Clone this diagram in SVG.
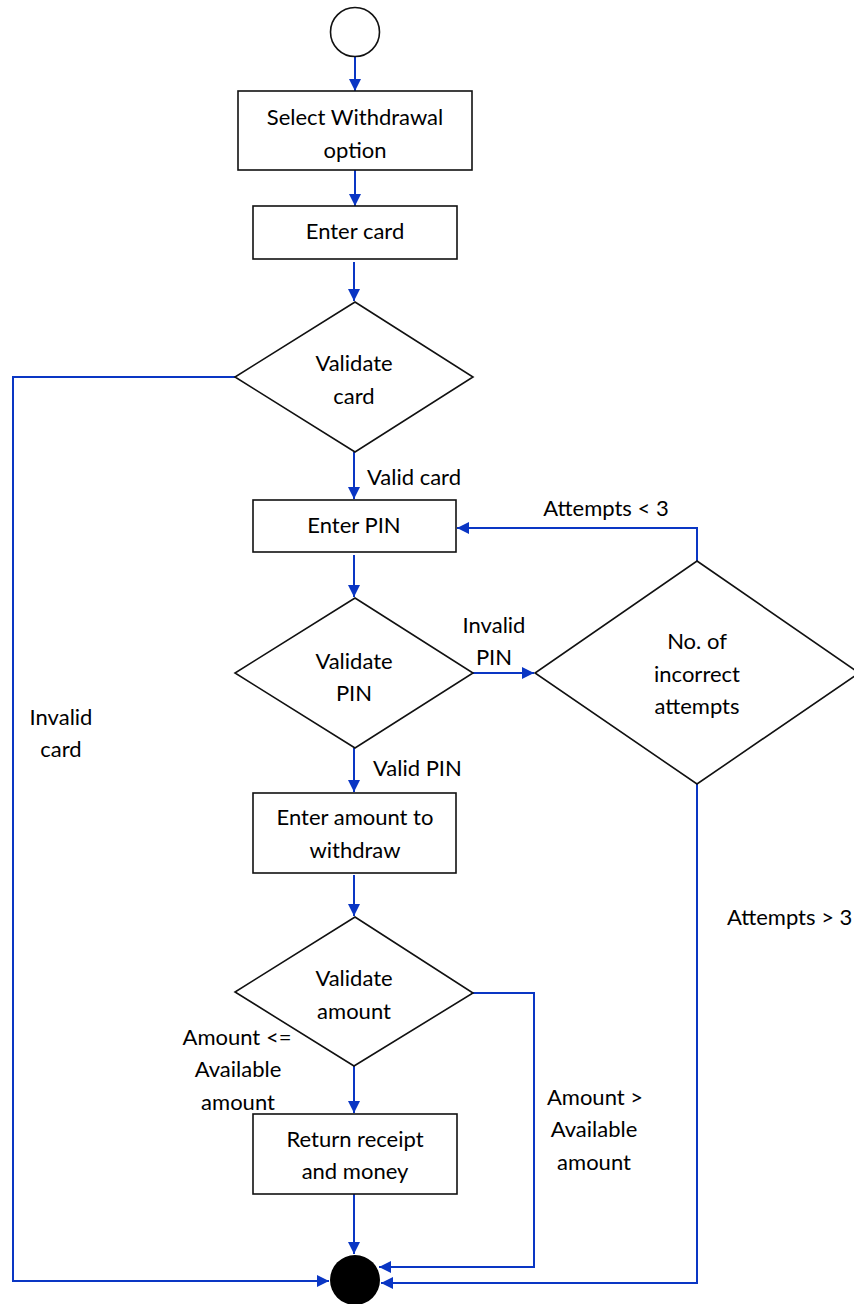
<svg xmlns="http://www.w3.org/2000/svg" width="854" height="1304" viewBox="0 0 854 1304">
  <style>
    .box { fill: #ffffff; stroke: #111111; stroke-width: 1.6; }
    .flow { fill: none; stroke: #0a36c4; stroke-width: 2; }
    text { font-family: Lato, "Open Sans", "Liberation Sans", sans-serif; font-size: 22px; fill: #000000; }
    .c { text-anchor: middle; }
  </style>
  <defs>
    <marker id="arrow" viewBox="0 0 12 12" refX="12" refY="6" markerWidth="12" markerHeight="12" markerUnits="userSpaceOnUse" orient="auto">
      <path d="M0,0 L12,6 L0,12 Z" fill="#0a36c4"/>
    </marker>
  </defs>
  <rect width="854" height="1304" fill="#ffffff"/>

  <g id="connectors">
    <path class="flow" d="M355,57 L355,91" marker-end="url(#arrow)"/>
    <path class="flow" d="M355,170 L355,206" marker-end="url(#arrow)"/>
    <path class="flow" d="M354,262 L354,301" marker-end="url(#arrow)"/>
    <path class="flow" d="M235,377 L13,377 L13,1281 L329,1281" marker-end="url(#arrow)"/>
    <path class="flow" d="M354,452 L354,499" marker-end="url(#arrow)"/>
    <path class="flow" d="M354,555 L354,597" marker-end="url(#arrow)"/>
    <path class="flow" d="M473,673 L534,673" marker-end="url(#arrow)"/>
    <path class="flow" d="M697,561 L697,528 L457,528" marker-end="url(#arrow)"/>
    <path class="flow" d="M354,748 L354,792" marker-end="url(#arrow)"/>
    <path class="flow" d="M697,784 L697,1283 L381,1283" marker-end="url(#arrow)"/>
    <path class="flow" d="M354,875 L354,916" marker-end="url(#arrow)"/>
    <path class="flow" d="M473,993 L534,993 L534,1267 L379,1267" marker-end="url(#arrow)"/>
    <path class="flow" d="M354,1066 L354,1113" marker-end="url(#arrow)"/>
    <path class="flow" d="M354,1194 L354,1254" marker-end="url(#arrow)"/>
  </g>

  <g id="start">
    <circle cx="355" cy="32" r="24.5" class="box"/>
  </g>

  <g id="select-withdrawal">
    <rect x="238" y="91" width="234" height="79" class="box"/>
    <text class="c" x="355" y="125">Select Withdrawal</text>
    <text class="c" x="355" y="158">option</text>
  </g>

  <g id="enter-card">
    <rect x="253" y="206" width="204" height="53" class="box"/>
    <text class="c" x="355" y="239">Enter card</text>
  </g>

  <g id="validate-card">
    <polygon points="355,302 473,377 355,452 235,377" class="box"/>
    <text class="c" x="354" y="371">Validate</text>
    <text class="c" x="354" y="404">card</text>
  </g>

  <g id="enter-pin">
    <rect x="253" y="500" width="203" height="52" class="box"/>
    <text class="c" x="354" y="533">Enter PIN</text>
  </g>

  <g id="validate-pin">
    <polygon points="355,598 473,673 355,748 235,673" class="box"/>
    <text class="c" x="354" y="669">Validate</text>
    <text class="c" x="354" y="701">PIN</text>
  </g>

  <g id="incorrect-attempts">
    <polygon points="697,561 859,673 697,784 535,673" class="box"/>
    <text class="c" x="697" y="649">No. of</text>
    <text class="c" x="697" y="682">incorrect</text>
    <text class="c" x="697" y="714">attempts</text>
  </g>

  <g id="enter-amount">
    <rect x="253" y="793" width="203" height="80" class="box"/>
    <text class="c" x="355" y="825">Enter amount to</text>
    <text class="c" x="355" y="858">withdraw</text>
  </g>

  <g id="validate-amount">
    <polygon points="355,917 473,993 354,1066 235,992" class="box"/>
    <text class="c" x="354" y="986">Validate</text>
    <text class="c" x="354" y="1019">amount</text>
  </g>

  <g id="return-receipt">
    <rect x="253" y="1114" width="204" height="80" class="box"/>
    <text class="c" x="355" y="1147">Return receipt</text>
    <text class="c" x="355" y="1179">and money</text>
  </g>

  <g id="end">
    <circle cx="355" cy="1280" r="25" fill="#000000"/>
  </g>

  <g id="labels">
    <text x="367" y="485">Valid card</text>
    <text class="c" x="606" y="516">Attempts &lt; 3</text>
    <text class="c" x="494" y="633">Invalid</text>
    <text class="c" x="494" y="665">PIN</text>
    <text x="373" y="776">Valid PIN</text>
    <text class="c" x="61" y="725">Invalid</text>
    <text class="c" x="61" y="757">card</text>
    <text x="727" y="925">Attempts &gt; 3</text>
    <text class="c" x="237" y="1045">Amount &lt;=</text>
    <text class="c" x="238" y="1077">Available</text>
    <text class="c" x="238" y="1110">amount</text>
    <text class="c" x="595" y="1105">Amount &gt;</text>
    <text class="c" x="594" y="1137">Available</text>
    <text class="c" x="594" y="1170">amount</text>
  </g>
</svg>
